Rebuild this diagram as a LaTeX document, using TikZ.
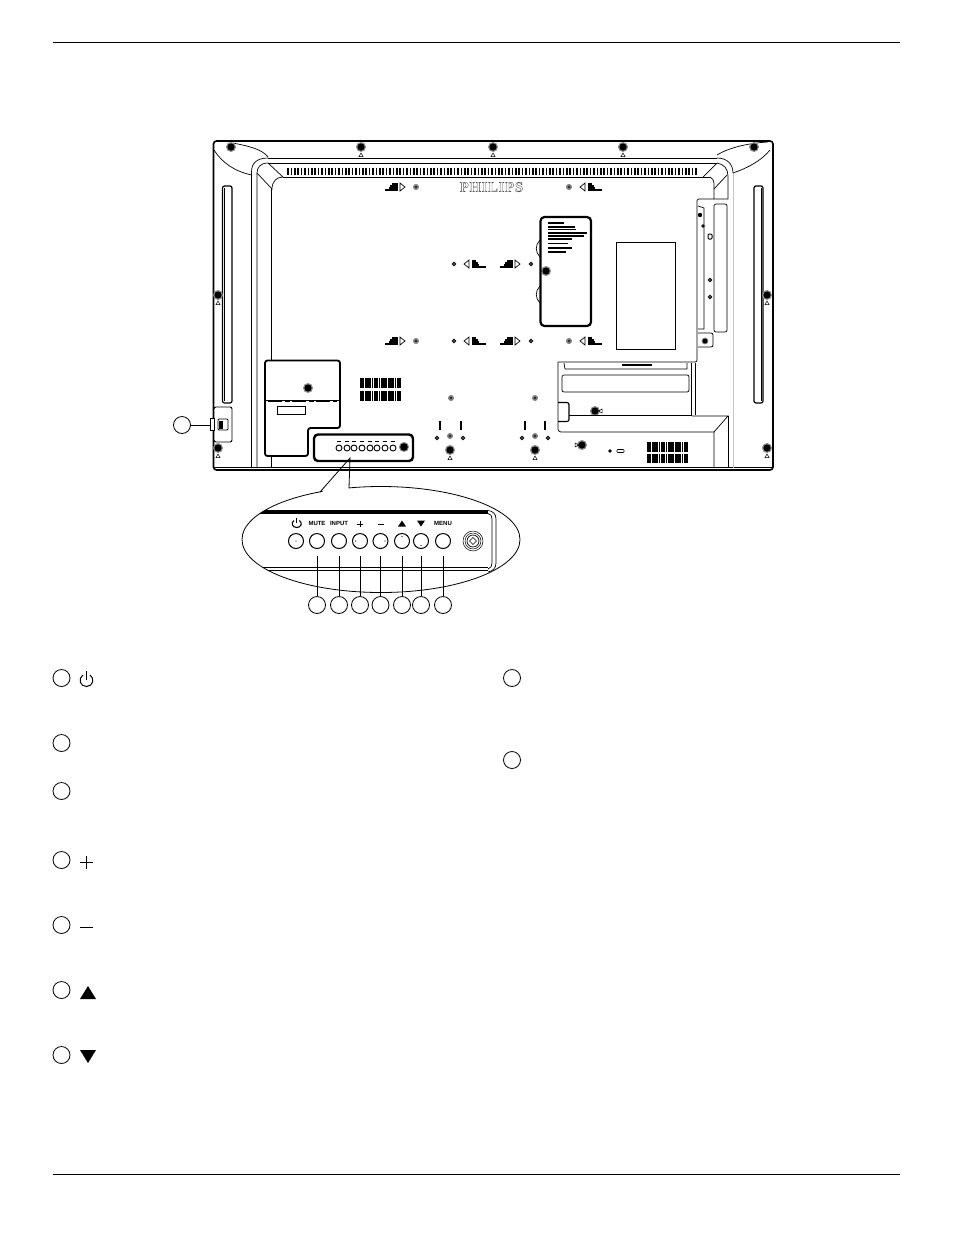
\documentclass[tikz,border=0pt]{standalone}
\usepackage{fontspec}
\setsansfont{Liberation Sans}
\newfontfamily\logofont[LetterSpace=6]{Liberation Serif}
\usetikzlibrary{positioning}
\usetikzlibrary{shapes.geometric}
\tikzset{
  thinline/.style={line width=.7pt},
  panel/.style={line width=1.8pt,rounded corners=2.5pt},
  keyring/.style={circle,draw,line width=.8pt,minimum size=17pt,inner sep=0pt},
  bubblekey/.style={circle,draw,line width=1pt,minimum size=15pt,inner sep=0pt},
  keylabel/.style={font=\sffamily\bfseries\fontsize{6}{6}\selectfont,inner sep=0pt},
}
\begin{document}
\begin{tikzpicture}[x=1pt,y=-1pt]
\useasboundingbox (0,0) rectangle (954,1235);
\fill[white] (0,0) rectangle (954,1235);
% page rules
\draw[line width=.8pt] (53,42) -- (900,42);
\draw[line width=.8pt] (53,1174) -- (900,1174);
% back of the display
\draw[line width=1.6pt,rounded corners=3pt] (213.5,141) rectangle (773,470);
\draw[thinline] (214,467.5) -- (772,467.5);
% frame, left corner
\draw[thinline] (268,158) -- (717,158);
\draw[thinline] (268,163) -- (717,163);
\draw[line width=.9pt] (283,177) -- (710,177);
\draw[thinline] (251.5,468) -- (251.5,172) .. controls (251.5,163) and (257,158) .. (268,158);
\draw[thinline] (257,468) -- (257,173) .. controls (257,168) and (260,163) .. (268,163);
\draw[thinline] (268,163) -- (283,177) .. controls (277,177) and (272,181) .. (272,189) -- (257,173);
\draw[thinline] (271.5,189) -- (271.5,360);
\draw[thinline] (271.5,456) -- (271.5,468);
\draw[thinline] (214,150) .. controls (222,163) and (236,172) .. (252,175);
\draw[thinline] (233,143) .. controls (248,146) and (262,149) .. (268,157);
% frame, right corner
\draw[thinline] (717,158) .. controls (727,158) and (733,164) .. (733,173);
\draw[gray!45,line width=1pt] (733.5,173) -- (733.5,468);
\draw[thinline] (717,163) .. controls (724,164) and (728,169) .. (728,176) -- (728,199);
\draw[thinline] (717,163) -- (703,177);
\draw[thinline] (714,189) -- (727,175);
\draw[thinline] (710,177) .. controls (712,178) and (714,180) .. (714,184) -- (714,199);
\draw[thinline] (717,155) .. controls (730,147) and (750,143) .. (768,142);
\draw[thinline] (733,173) .. controls (748,168) and (762,160) .. (770,150);
% slots
\draw[line width=1.2pt,rounded corners=2pt] (222.5,186) rectangle (232,403);
\draw[thinline] (224.5,188) -- (224.5,401);
\draw[line width=1.2pt,rounded corners=2pt] (754,186) rectangle (763,403);
\draw[thinline] (761,188) -- (761,401);
% top vent
\foreach \x in {288,291.4,...,698}
  \draw[line width=1.7pt] (\x,167.5) -- (\x,175);
% blocks of vent holes
\foreach \x/\y/\w in {361/378/40,361/391/40,648/442/40,648/453.5/40}
  \foreach \d in {0,2.3,...,40}
    \draw[line width=1.8pt] (\x+\d,\y) -- (\x+\d,\y+9.5);
% maker's name
\node[text=black!70,inner sep=0pt] (logo) at (491.5,187) {\special{pdf:code 1 Tr 0.35 w}\logofont\bfseries\fontsize{14.5}{14.5}\selectfont PHILIPS\special{pdf:code 0 Tr}};
% large screws
\foreach \x/\y in {231/147,361/147,493/147,623/147,754/147,218/295,767/295,218/448,767/448,595/411,582/445,450/450,535/450,546/271}{
  \fill[black!45] (\x,\y) circle (5pt);
  \fill[black] (\x,\y) circle (3.6pt);
}
% mark under the screws
\foreach \x/\y in {361/155,493/155,623/155,218/303,218/456,450/458,535/458,767/303,767/456}
  \draw[line width=.5pt] (\x-2,\y+1.5) -- (\x+2,\y+1.5) -- (\x,\y-2) -- cycle;
\draw[line width=.5pt] (299,386) -- (303,388) -- (299,390) -- cycle;
\draw[line width=.5pt] (602,409) -- (598.5,411) -- (602,413) -- cycle;
\draw[line width=.5pt] (575,443) -- (579,445) -- (575,447) -- cycle;
% small screws
\foreach \x/\y in {416/187,416/341,569/187,569/341,451/398,535/398,450/436,535/436}{
  \fill[black!50] (\x,\y) circle (3pt);
  \fill[black!85] (\x,\y) circle (1.4pt);
}
\foreach \x/\y in {454/264,454/341,531/264,531/341,437/438,463/438,522/438,548/438,710/280,710/297}
  \draw[line width=1pt] (\x,\y) circle (1.6pt);
% wall mount marks
\foreach \x/\y in {385/187,385/341,500/264,500/341}{
  \draw[line width=.7pt] (\x+15,\y-4) -- (\x+20,\y) -- (\x+15,\y+4) -- cycle;
  \foreach \s/\l in {-3/6,-1/8,1/9,3/13}
    \draw[line width=1.3pt] (\x+13-\l,\y+\s) -- (\x+13,\y+\s);
}
\foreach \x/\y in {464/264,464/341,580/187,580/341}{
  \draw[line width=.7pt] (\x+5,\y-4) -- (\x,\y) -- (\x+5,\y+4) -- cycle;
  \foreach \s/\l in {-3/4,-1/6,1/7,3/14}
    \draw[line width=1.3pt] (\x+8,\y+\s) -- (\x+8+\l,\y+\s);
}
% covers lower left
\draw[panel,fill=white] (265,400) -- (265,360.5) -- (340,360.5) -- (340,400);
\draw[panel] (265,400) -- (265,456) -- (308,456) -- (308,428) -- (340,428) -- (340,400);
\draw[thinline] (265,400) -- (340,400);
\draw[line width=1.5pt,dash pattern=on 14pt off 3pt on 5pt off 2pt] (268,401.5) -- (337,401.5);
\draw[line width=.8pt] (277,406) rectangle (305,414.5);
\fill[black!45] (308,388) circle (5pt);
\fill[black] (308,388) circle (3.6pt);
% key block
\draw[line width=2.4pt,rounded corners=4pt] (314,434.5) rectangle (413,461);
\foreach \x in {339,347,354,362,370,377,385,393}{
  \draw[line width=.9pt] (\x,448) circle (3pt);
  \draw[line width=1.7pt] (\x-2,441.5) -- (\x+2,441.5);
}
\fill[black!45] (404,447) circle (5pt);
\fill[black] (404,447) circle (3.8pt);
% brackets
\foreach \x in {440,461,525,545}
  \draw[line width=1.7pt] (\x,421) -- (\x,430);
% label plate
\draw[line width=2.2pt,rounded corners=4pt] (540.5,217) rectangle (591,326);
\draw[thinline] (540,240) .. controls (535,245) and (535,252) .. (540,257);
\draw[thinline] (540,286) .. controls (535,291) and (535,298) .. (540,303);
\foreach \y/\a/\b in {223/548/564,227/548/575,229.5/548/576,233/548/587,236/548/584,239/548/572,243.5/548/568,248/548/572,252/548/566}
  \draw[line width=1.6pt] (\a,\y) -- (\b,\y);
\draw[line width=.8pt] (616,242) rectangle (675,349);
% right bracket
\draw[thinline,rounded corners=2pt] (728,199) -- (697,199) -- (697,362) -- (558,362);
\draw[thinline,rounded corners=2pt] (714,204) -- (727,204) -- (727,332) -- (714,332) -- cycle;
\draw[thinline] (698,206) -- (704,208) -- (704,329) -- (698,329);
\fill[black] (700,215) circle (2.2pt);
\draw[line width=.8pt] (703,226) circle (1.3pt);
\draw[line width=1pt,rounded corners=1pt] (708,234) rectangle (712,239);
\draw[line width=.8pt,rounded corners=2pt] (698,333) -- (713,333) -- (713,347) -- (698,347);
\fill[black!50] (705,341) circle (3.4pt);
\fill[black] (705,341) circle (2.4pt);
% lower right cover
\draw[thinline,rounded corners=3pt] (558,362) -- (558,432) -- (714,432);
\draw[thinline] (564,363) -- (565,369) -- (687,369) -- (687,363);
\draw[line width=2pt] (622,364.5) -- (652,364.5);
\draw[thinline,rounded corners=2pt] (562,375) rectangle (689,392);
\draw[thinline] (691,363) -- (691,415);
\draw[thinline] (695,363) -- (695,415);
\draw[thinline] (569,415) -- (692,415);
\draw[line width=1.2pt,rounded corners=2pt] (558,402.5) -- (569,402.5) -- (569,421.5) -- (558,421.5);
\draw[thinline] (692,416) -- (728,416) -- (714,432) -- (714,468);
\draw[thinline] (728,416) -- (728,468);
\fill[black] (610,451) circle (1.8pt);
\draw[line width=.6pt,rounded corners=.8pt] (617,449.5) rectangle (624,452.5);
% side switch
\draw[line width=.9pt,fill=white,rounded corners=2pt] (214,407) rectangle (232,442);
\draw[line width=.9pt,fill=white] (210,418) rectangle (214,430);
\draw[line width=.9pt,rounded corners=1pt] (218,419) rectangle (228,430);
\fill[black] (219,420.5) rectangle (223,428.5);
\node[keyring] (side) at (182,425) {};
\coordinate (sidetab) at (210,425);
\draw[thinline] (side) -- (sidetab);
% close-up of the key block
\draw[line width=.8pt,fill=white] (381,539.5) ellipse (139pt and 53pt);
\coordinate (tailleft) at (320,492);
\coordinate (tailright) at (349,488);
\coordinate (tailtip) at (350,458);
\fill[white] (320.5,495) -- (348.5,491) -- (348.5,480) -- (330,480) -- cycle;
\draw[line width=.8pt] (tailleft) -- (tailtip) -- (tailright);
\begin{scope}
\clip (381,539.5) ellipse (139pt and 53pt);
\draw[line width=3.6pt] (240,512) -- (488,512);
\draw[line width=1pt] (240,567) -- (488,567);
\draw[line width=.7pt] (240,570.5) -- (488,570.5);
\end{scope}
\draw[thinline] (488,510.5) .. controls (493,511) and (496,514) .. (496,519) -- (496,563) .. controls (496,568) and (493,571) .. (488,572);
\draw[thinline] (488,513.5) .. controls (491,514) and (492,516) .. (492,519) -- (492,563) .. controls (492,566) and (491,568) .. (488,569);
% keys
\foreach \name/\x in {kp/296,ka/317,kb/339,kc/360,kd/380.5,ke/402,kf/421,kg/443}
  \node[bubblekey] (\name) at (\x,541) {};
\fill (296,541) circle (.7pt);
\fill (355.5,541) circle (.6pt);
\fill (385,541) circle (.6pt);
\fill (402,536.5) circle (.6pt);
\fill (421,545.5) circle (.6pt);
\draw[line width=.5pt] (473,541) circle (10pt);
\draw[line width=.5pt] (473,541) circle (8pt);
\draw[line width=.7pt] (473,541) circle (6pt);
\draw[line width=.6pt] (473,537.5) -- (476.5,541) -- (473,544.5) -- (469.5,541) -- cycle;
% key names
\node[keylabel] (lmute) at (317,523.5) {MUTE};
\node[keylabel] (linput) at (339,523.5) {INPUT};
\node[keylabel] (lmenu) at (443,523.5) {MENU};
\draw[line width=1.2pt] (296.7,517.5) -- (296.7,523);
\draw[line width=1.1pt] (294,520.5) .. controls (290.5,523) and (292.5,527.5) .. (296.7,527.5) .. controls (301,527.5) and (303,523) .. (299.4,520.5);
\draw[line width=1pt] (357,524) -- (363,524);
\draw[line width=1pt] (360,521) -- (360,527);
\draw[line width=1pt] (378,524) -- (384,524);
\fill (398,526.5) -- (406,526.5) -- (402,520.5) -- cycle;
\fill (417,520.5) -- (425,520.5) -- (421,526.5) -- cycle;
% numbered keys
\foreach \name/\up/\x in {na/ka/317,nb/kb/339,nc/kc/360,nd/kd/380.5,ne/ke/402,nf/kf/421,ng/kg/443}{
  \node[keyring] (\name) at (\x,605) {};
  \coordinate (\name top) at (\x,556);
  \draw[thinline] (\name) -- (\name top);
}
% list, left column
\foreach \name/\y in {ia/678,ib/743,ic/791,id/860,ie/925,if/990,ig/1055}
  \node[keyring] (\name) at (61.5,\y) {};
\draw[line width=1pt] (86,671) -- (86,680);
\draw[line width=1pt] (83,675) .. controls (77.5,678.5) and (80,686.5) .. (86.5,686.5) .. controls (93,686.5) and (95,678.5) .. (90,675);
\draw[line width=.8pt] (80,862) -- (93,862);
\draw[line width=.8pt] (86.5,855.5) -- (86.5,868.5);
\draw[line width=.8pt] (80,927) -- (93,927);
\fill (80,999) -- (96,999) -- (88,986) -- cycle;
\fill (80,1050) -- (96,1050) -- (88,1063) -- cycle;
% list, right column
\node[keyring] (ih) at (512,678) {};
\node[keyring] (ii) at (512,760) {};
\end{tikzpicture}
\end{document}
